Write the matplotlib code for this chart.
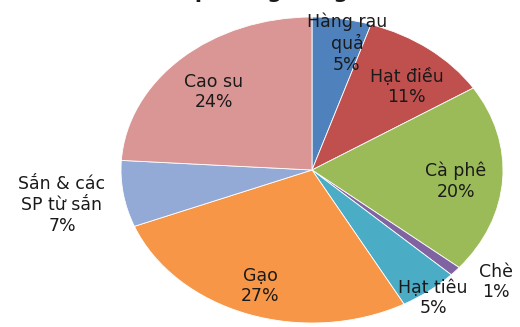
import matplotlib
matplotlib.use('Agg')
from matplotlib import pyplot as plt

plt.rcParams['font.family'] = ['DejaVu Sans']

# Cơ cấu hàng nông sản xuất khẩu
names = ['Hàng rau\nquả', 'Hạt điều', 'Cà phê', 'Chè', 'Hạt tiêu',
         'Gạo', 'Sắn & các\nSP từ sắn', 'Cao su']
shares = [5, 11, 20, 1, 5, 27, 7, 24]
colors = ['#4F81BD', '#C0504D', '#9BBB59', '#8064A2', '#4BACC6',
          '#F79646', '#93AAD6', '#D99694']

# vị trí nhãn (toạ độ trong hệ trục của hình tròn, bán kính 1)
label_pos = [(0.183, 0.83), (0.497, 0.542), (0.754, -0.072), (0.963, -0.732),
             (0.634, -0.837), (-0.272, -0.758), (-1.309, -0.229), (-0.513, 0.51)]

W, H = 520, 327
fig = plt.figure(figsize=(W / 100, H / 100), dpi=100)
fig.patch.set_facecolor('white')

# khung hình elip: x 121..503, y 17..323 (pixel)
ax = fig.add_axes([121 / W, 1 - 323 / H, 382 / W, 306 / H])
ax.pie(shares, colors=colors, startangle=90, counterclock=False,
       wedgeprops=dict(edgecolor='white', linewidth=0.6))
ax.set_aspect('auto')
ax.set_xlim(-1, 1)
ax.set_ylim(-1, 1)
ax.axis('off')

for name, val, (x, y) in zip(names, shares, label_pos):
    ax.text(x, y, f'{name}\n{val}%', ha='center', va='center',
            fontsize=12.5, color='#1a1a1a', linespacing=1.2, clip_on=False)

# tiêu đề, phần lớn nằm ngoài mép trên
fig.text(85 / W, 1 + 1.5 / H, 'Cơ cấu mặt hàng nông sản xuất khẩu năm 2012',
         fontsize=15, fontweight='bold', color='#1a1a1a', va='baseline', ha='left')

fig.savefig('out.png', dpi=100)
